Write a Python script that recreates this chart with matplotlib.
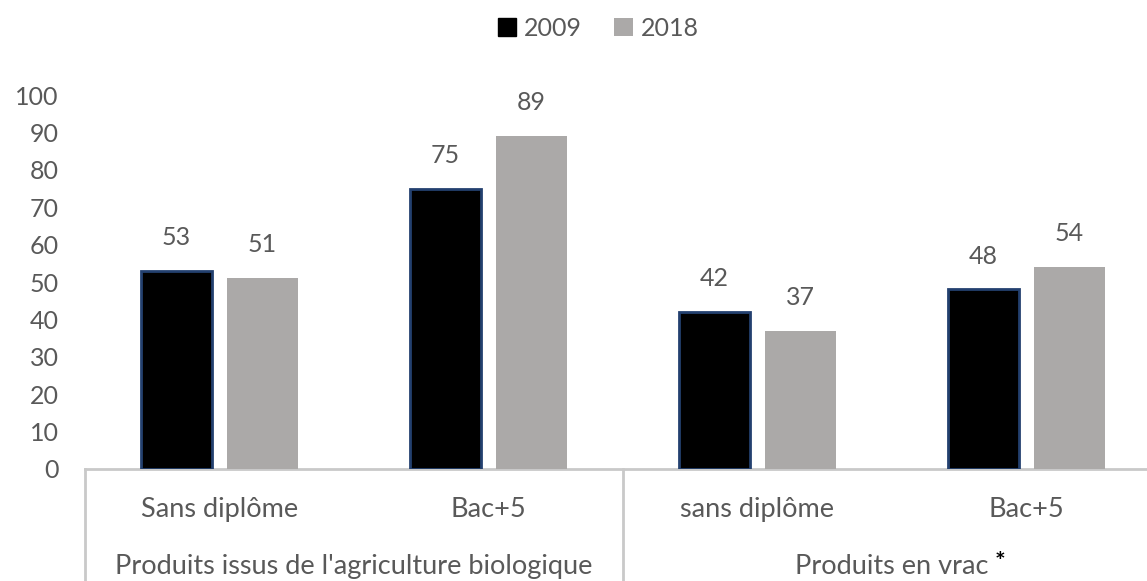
import matplotlib
matplotlib.use("Agg")
import matplotlib.pyplot as plt
import matplotlib.transforms as mtransforms
from matplotlib.patches import Patch
import numpy as np

plt.rcParams['font.family'] = ['Lato', 'DejaVu Sans']

categories = ["Sans diplôme", "Bac+5", "sans diplôme", "Bac+5"]
groups = ["Produits issus de l'agriculture biologique", "Produits en vrac"]
series_names = ["2009", "2018"]
values_2009 = [53, 75, 42, 48]
values_2018 = [51, 89, 37, 54]
yticks = [0, 10, 20, 30, 40, 50, 60, 70, 80, 90, 100]

grey_text = '#595959'
line_grey = '#C9C9C9'
col_2009 = '#000000'
col_2018 = '#ABA9A8'

W, H = 1147, 581
fig = plt.figure(figsize=(W / 100, H / 100), dpi=100)
ax = fig.add_axes([85 / W, (H - 469) / H, 1076 / W, 374 / H])

x = np.arange(len(categories))
bw = 0.265
off = 0.16
b1 = ax.bar(x - off, values_2009, bw, color=col_2009, edgecolor='#23406f', linewidth=2, zorder=3)
b2 = ax.bar(x + off, values_2018, bw, color=col_2018, edgecolor='none', zorder=3)

for bars, vals in ((b1, values_2009), (b2, values_2018)):
    for r, v in zip(bars, vals):
        ax.annotate(str(v), (r.get_x() + r.get_width() / 2, v), xytext=(0, 24),
                    textcoords='offset points', ha='center', va='center',
                    fontsize=18, color=grey_text, annotation_clip=False)

ax.set_xlim(-0.5, 3.5)
ax.set_ylim(0, 100)
ax.set_yticks(yticks)
ax.set_xticks([])
ax.tick_params(axis='y', length=0, pad=19, labelsize=18, labelcolor=grey_text)
for s in ['top', 'right', 'left']:
    ax.spines[s].set_visible(False)
ax.spines['bottom'].set_color(line_grey)
ax.spines['bottom'].set_linewidth(2)

trans = mtransforms.blended_transform_factory(ax.transData, ax.transAxes)
for xs in [-0.5, 1.5, 3.5]:
    ax.plot([xs, xs], [0, -0.4], transform=trans, color=line_grey, lw=2, clip_on=False)

for xi, lab in zip(x, categories):
    ax.text(xi, -0.107, lab, transform=trans, ha='center', va='center',
            fontsize=19.5, color=grey_text)

ax.text(0.5, -0.26, groups[0], transform=trans, ha='center', va='center',
        fontsize=19.5, color=grey_text)
t = ax.text(2.5, -0.26, groups[1], transform=trans, ha='center', va='center',
            fontsize=19.5, color=grey_text)
ax.annotate('*', xy=(1, 1), xycoords=t, xytext=(4, 2), textcoords='offset points',
            ha='left', va='top', fontsize=18, color='black', fontweight='bold')

handles = [Patch(facecolor=col_2009, edgecolor=col_2009),
           Patch(facecolor=col_2018, edgecolor='none')]
fig.legend(handles, series_names, loc='center', bbox_to_anchor=(598 / W, 1 - 28 / H),
           ncol=2, frameon=False, fontsize=18, labelcolor=grey_text,
           handlelength=0.75, handleheight=0.75, handletextpad=0.3, columnspacing=1.3)

fig.savefig('out.png', dpi=100)
